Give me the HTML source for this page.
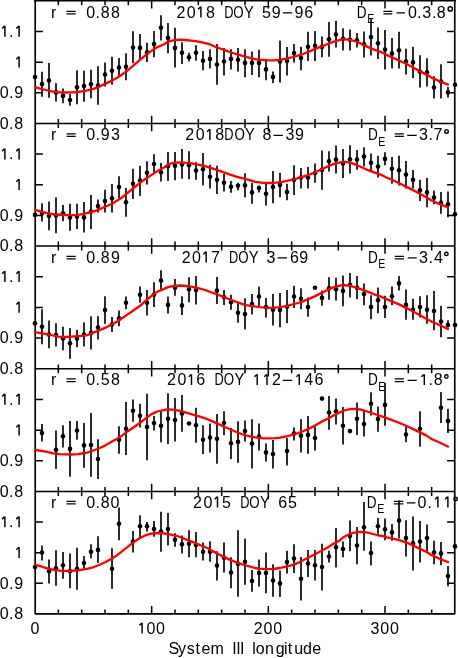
<!DOCTYPE html><html><head><meta charset="utf-8"><style>html,body{margin:0;padding:0;background:#fff;width:458px;height:658px;overflow:hidden}svg{display:block}text{font-family:"Liberation Sans",sans-serif;fill:#000}.tx{filter:grayscale(1)}</style></head><body>
<svg width="458" height="658" viewBox="0 0 458 658">
<g class="tx"><text x="51.11" y="17.50" font-size="16.0">r</text><text x="86.21" y="17.50" font-size="16.0">0</text><text x="95.51" y="17.50" font-size="16.0">.</text><text x="100.63" y="17.50" font-size="16.0">8</text><text x="110.93" y="17.50" font-size="16.0">8</text><text x="176.45" y="17.50" font-size="16.0">2</text><text x="186.71" y="17.50" font-size="16.0">0</text><text x="206.03" y="17.50" font-size="16.0">8</text><text transform="translate(224.13,17.50) scale(0.8,1)" font-size="16.0">D</text><text transform="translate(233.25,17.50) scale(0.83,1)" font-size="16.0">O</text><text transform="translate(243.98,17.50) scale(0.92,1)" font-size="16.0">Y</text><text x="261.91" y="17.50" font-size="16.0">5</text><text x="271.83" y="17.50" font-size="16.0">9</text><text x="294.43" y="17.50" font-size="16.0">9</text><text x="304.15" y="17.50" font-size="16.0">6</text><text transform="translate(356.76,17.50) scale(0.85,1)" font-size="16.0">D</text><text transform="translate(367.20,23.10) scale(0.84,1)" font-size="12.6">E</text><text x="407.91" y="17.50" font-size="16.0">0</text><text x="416.91" y="17.50" font-size="16.0">.</text><text x="422.31" y="17.50" font-size="16.0">3</text><text x="432.01" y="17.50" font-size="16.0">.</text><text x="436.73" y="17.50" font-size="16.0">8</text><text x="51.11" y="140.00" font-size="16.0">r</text><text x="86.21" y="140.00" font-size="16.0">0</text><text x="95.51" y="140.00" font-size="16.0">.</text><text x="100.63" y="140.00" font-size="16.0">9</text><text x="111.01" y="140.00" font-size="16.0">3</text><text x="185.35" y="140.00" font-size="16.0">2</text><text x="195.71" y="140.00" font-size="16.0">0</text><text x="215.13" y="140.00" font-size="16.0">8</text><text transform="translate(224.33,140.00) scale(0.8,1)" font-size="16.0">D</text><text transform="translate(234.45,140.00) scale(0.83,1)" font-size="16.0">O</text><text transform="translate(245.08,140.00) scale(0.92,1)" font-size="16.0">Y</text><text x="262.43" y="140.00" font-size="16.0">8</text><text x="285.51" y="140.00" font-size="16.0">3</text><text x="294.93" y="140.00" font-size="16.0">9</text><text transform="translate(368.06,140.00) scale(0.85,1)" font-size="16.0">D</text><text transform="translate(378.20,145.60) scale(0.84,1)" font-size="12.6">E</text><text x="419.11" y="140.00" font-size="16.0">3</text><text x="428.61" y="140.00" font-size="16.0">.</text><text x="433.55" y="140.00" font-size="16.0">7</text><text x="51.11" y="262.50" font-size="16.0">r</text><text x="86.21" y="262.50" font-size="16.0">0</text><text x="95.51" y="262.50" font-size="16.0">.</text><text x="100.63" y="262.50" font-size="16.0">8</text><text x="110.93" y="262.50" font-size="16.0">9</text><text x="181.75" y="262.50" font-size="16.0">2</text><text x="192.01" y="262.50" font-size="16.0">0</text><text x="210.95" y="262.50" font-size="16.0">7</text><text transform="translate(228.93,262.50) scale(0.8,1)" font-size="16.0">D</text><text transform="translate(238.35,262.50) scale(0.83,1)" font-size="16.0">O</text><text transform="translate(248.68,262.50) scale(0.92,1)" font-size="16.0">Y</text><text x="266.51" y="262.50" font-size="16.0">3</text><text x="290.05" y="262.50" font-size="16.0">6</text><text x="299.23" y="262.50" font-size="16.0">9</text><text transform="translate(368.06,262.50) scale(0.85,1)" font-size="16.0">D</text><text transform="translate(378.20,268.10) scale(0.84,1)" font-size="12.6">E</text><text x="419.11" y="262.50" font-size="16.0">3</text><text x="428.61" y="262.50" font-size="16.0">.</text><text x="433.95" y="262.50" font-size="16.0">4</text><text x="51.11" y="385.10" font-size="16.0">r</text><text x="86.21" y="385.10" font-size="16.0">0</text><text x="95.51" y="385.10" font-size="16.0">.</text><text x="100.71" y="385.10" font-size="16.0">5</text><text x="110.93" y="385.10" font-size="16.0">8</text><text x="167.05" y="385.10" font-size="16.0">2</text><text x="177.41" y="385.10" font-size="16.0">0</text><text x="196.35" y="385.10" font-size="16.0">6</text><text transform="translate(214.43,385.10) scale(0.8,1)" font-size="16.0">D</text><text transform="translate(223.65,385.10) scale(0.83,1)" font-size="16.0">O</text><text transform="translate(234.38,385.10) scale(0.92,1)" font-size="16.0">Y</text><text x="272.05" y="385.10" font-size="16.0">2</text><text x="304.35" y="385.10" font-size="16.0">4</text><text x="314.45" y="385.10" font-size="16.0">6</text><text transform="translate(368.06,385.10) scale(0.85,1)" font-size="16.0">D</text><text transform="translate(378.20,390.70) scale(0.84,1)" font-size="12.6">E</text><text x="428.61" y="385.10" font-size="16.0">.</text><text x="433.63" y="385.10" font-size="16.0">8</text><text x="51.11" y="507.50" font-size="16.0">r</text><text x="86.21" y="507.50" font-size="16.0">0</text><text x="95.51" y="507.50" font-size="16.0">.</text><text x="100.83" y="507.50" font-size="16.0">8</text><text x="110.61" y="507.50" font-size="16.0">0</text><text x="193.05" y="507.50" font-size="16.0">2</text><text x="203.41" y="507.50" font-size="16.0">0</text><text x="222.11" y="507.50" font-size="16.0">5</text><text transform="translate(240.23,507.50) scale(0.8,1)" font-size="16.0">D</text><text transform="translate(249.35,507.50) scale(0.83,1)" font-size="16.0">O</text><text transform="translate(259.98,507.50) scale(0.92,1)" font-size="16.0">Y</text><text x="278.25" y="507.50" font-size="16.0">6</text><text x="287.91" y="507.50" font-size="16.0">5</text><text transform="translate(366.86,507.50) scale(0.85,1)" font-size="16.0">D</text><text transform="translate(377.20,513.10) scale(0.84,1)" font-size="12.6">E</text><text x="417.61" y="507.50" font-size="16.0">0</text><text x="427.61" y="507.50" font-size="16.0">.</text><text x="9.01" y="36.77" font-size="16.0">.</text><text x="-0.19" y="98.12" font-size="16.0">0</text><text x="9.11" y="98.12" font-size="16.0">.</text><text x="14.33" y="98.12" font-size="16.0">9</text><text x="-0.19" y="128.80" font-size="16.0">0</text><text x="9.11" y="128.80" font-size="16.0">.</text><text x="14.33" y="128.80" font-size="16.0">8</text><text x="9.01" y="159.43" font-size="16.0">.</text><text x="-0.19" y="220.68" font-size="16.0">0</text><text x="9.11" y="220.68" font-size="16.0">.</text><text x="14.33" y="220.68" font-size="16.0">9</text><text x="-0.19" y="251.30" font-size="16.0">0</text><text x="9.11" y="251.30" font-size="16.0">.</text><text x="14.33" y="251.30" font-size="16.0">8</text><text x="9.01" y="282.00" font-size="16.0">.</text><text x="-0.19" y="343.40" font-size="16.0">0</text><text x="9.11" y="343.40" font-size="16.0">.</text><text x="14.33" y="343.40" font-size="16.0">9</text><text x="-0.19" y="374.10" font-size="16.0">0</text><text x="9.11" y="374.10" font-size="16.0">.</text><text x="14.33" y="374.10" font-size="16.0">8</text><text x="9.01" y="404.78" font-size="16.0">.</text><text x="-0.19" y="466.12" font-size="16.0">0</text><text x="9.11" y="466.12" font-size="16.0">.</text><text x="14.33" y="466.12" font-size="16.0">9</text><text x="-0.19" y="496.80" font-size="16.0">0</text><text x="9.11" y="496.80" font-size="16.0">.</text><text x="14.33" y="496.80" font-size="16.0">8</text><text x="9.01" y="527.37" font-size="16.0">.</text><text x="-0.19" y="588.52" font-size="16.0">0</text><text x="9.11" y="588.52" font-size="16.0">.</text><text x="14.33" y="588.52" font-size="16.0">9</text><text x="-0.19" y="619.10" font-size="16.0">0</text><text x="9.11" y="619.10" font-size="16.0">.</text><text x="14.33" y="619.10" font-size="16.0">8</text><text x="30.51" y="633.60" font-size="16.0">0</text><text x="146.41" y="633.60" font-size="16.0">0</text><text x="155.91" y="633.60" font-size="16.0">0</text><text x="253.65" y="633.60" font-size="16.0">2</text><text x="263.61" y="633.60" font-size="16.0">0</text><text x="273.21" y="633.60" font-size="16.0">0</text><text x="370.51" y="633.60" font-size="16.0">3</text><text x="380.31" y="633.60" font-size="16.0">0</text><text x="389.91" y="633.60" font-size="16.0">0</text><text x="168.43" y="654.20" font-size="16.0">S</text><text x="177.97" y="654.20" font-size="16.0">y</text><text x="186.77" y="654.20" font-size="16.0">s</text><text x="195.61" y="654.20" font-size="16.0">t</text><text x="201.43" y="654.20" font-size="16.0">e</text><text x="210.61" y="654.20" font-size="16.0">m</text><text x="232.31" y="654.20" font-size="16.0">I</text><text x="236.21" y="654.20" font-size="16.0">I</text><text x="239.91" y="654.20" font-size="16.0">I</text><text x="252.31" y="654.20" font-size="16.0">l</text><text x="255.81" y="654.20" font-size="16.0">o</text><text x="264.91" y="654.20" font-size="16.0">n</text><text x="275.81" y="654.20" font-size="16.0">g</text><text x="284.01" y="654.20" font-size="16.0">i</text><text x="287.81" y="654.20" font-size="16.0">t</text><text x="294.21" y="654.20" font-size="16.0">u</text><text x="302.91" y="654.20" font-size="16.0">d</text><text x="312.23" y="654.20" font-size="16.0">e</text></g>
<path d="M198.10,9.24 L200.60,6.84 M200.90,6.54 V17.50 M207.10,131.74 L209.60,129.34 M209.90,129.04 V140.00 M203.40,254.24 L205.90,251.84 M206.20,251.54 V262.50 M188.70,376.84 L191.20,374.44 M191.50,374.14 V385.10 M254.40,376.84 L256.90,374.44 M257.20,374.14 V385.10 M264.20,376.84 L266.70,374.44 M267.00,374.14 V385.10 M296.50,376.84 L299.00,374.44 M299.30,374.14 V385.10 M421.50,376.84 L424.00,374.44 M424.30,374.14 V385.10 M214.70,499.24 L217.20,496.84 M217.50,496.54 V507.50 M435.10,499.24 L437.60,496.84 M437.90,496.54 V507.50 M445.10,499.24 L447.60,496.84 M447.90,496.54 V507.50 M2.10,28.51 L4.60,26.11 M4.90,25.81 V36.77 M16.30,28.51 L18.80,26.11 M19.10,25.81 V36.77 M16.30,59.19 L18.80,56.79 M19.10,56.49 V67.45 M2.10,151.16 L4.60,148.77 M4.90,148.47 V159.43 M16.30,151.16 L18.80,148.77 M19.10,148.47 V159.43 M16.30,181.79 L18.80,179.39 M19.10,179.09 V190.05 M2.10,273.74 L4.60,271.34 M4.90,271.04 V282.00 M16.30,273.74 L18.80,271.34 M19.10,271.04 V282.00 M16.30,304.44 L18.80,302.04 M19.10,301.74 V312.70 M2.10,396.52 L4.60,394.12 M4.90,393.82 V404.78 M16.30,396.52 L18.80,394.12 M19.10,393.82 V404.78 M16.30,427.19 L18.80,424.79 M19.10,424.49 V435.45 M2.10,519.11 L4.60,516.71 M4.90,516.41 V527.37 M16.30,519.11 L18.80,516.71 M19.10,516.41 V527.37 M16.30,549.69 L18.80,547.29 M19.10,546.99 V557.95 M139.30,625.34 L141.80,622.94 M142.10,622.64 V633.60" stroke="#000" stroke-width="1.45" fill="none"/>
<path d="M66.50,11.30 H75.70 M66.50,13.90 H75.70 M282.90,12.80 H292.10 M383.40,11.30 H392.30 M383.40,13.90 H392.30 M396.50,12.80 H405.00 M66.50,133.80 H75.70 M66.50,136.40 H75.70 M273.60,135.30 H283.00 M394.80,133.80 H403.90 M394.80,136.40 H403.90 M407.20,135.30 H416.70 M66.50,256.30 H75.70 M66.50,258.90 H75.70 M277.60,257.80 H286.90 M394.80,256.30 H403.90 M394.80,258.90 H403.90 M407.60,257.80 H416.70 M66.50,378.90 H75.70 M66.50,381.50 H75.70 M282.70,380.40 H292.20 M394.80,378.90 H403.90 M394.80,381.50 H403.90 M407.60,380.40 H416.70 M66.50,501.30 H75.70 M66.50,503.90 H75.70 M393.80,501.30 H403.30 M393.80,503.90 H403.30 M406.90,502.80 H415.40" stroke="#000" stroke-width="1.25" fill="none"/>
<g stroke="#000" stroke-width="1.4" fill="none"><circle cx="450.25" cy="8.90" r="2.15"/><circle cx="446.50" cy="131.40" r="1.80"/><circle cx="446.35" cy="253.90" r="1.70"/><circle cx="446.35" cy="376.50" r="1.70"/><circle cx="455.60" cy="498.90" r="1.70"/></g>
<g stroke="#000" fill="none">
<path d="M35.2,-2 V613.8 H454.75 V-2" stroke-width="1.65" stroke-linejoin="round"/>
<path d="M34,0.8 H456" stroke-width="1.6"/>
<path d="M35,123.5 H455" stroke-width="1.45"/>
<path d="M35,246.0 H455" stroke-width="1.45"/>
<path d="M35,368.8 H455" stroke-width="1.45"/>
<path d="M35,491.5 H455" stroke-width="1.45"/>
<path d="M58.33,0.8 v4.4 M58.33,123.5 v-4.4 M81.67,0.8 v4.4 M81.67,123.5 v-4.4 M105.00,0.8 v4.4 M105.00,123.5 v-4.4 M128.33,0.8 v4.4 M128.33,123.5 v-4.4 M151.67,0.8 v7.7 M151.67,123.5 v-7.7 M175.00,0.8 v4.4 M175.00,123.5 v-4.4 M198.33,0.8 v4.4 M198.33,123.5 v-4.4 M221.67,0.8 v4.4 M221.67,123.5 v-4.4 M245.00,0.8 v4.4 M245.00,123.5 v-4.4 M268.33,0.8 v7.7 M268.33,123.5 v-7.7 M291.67,0.8 v4.4 M291.67,123.5 v-4.4 M315.00,0.8 v4.4 M315.00,123.5 v-4.4 M338.33,0.8 v4.4 M338.33,123.5 v-4.4 M361.67,0.8 v4.4 M361.67,123.5 v-4.4 M385.00,0.8 v7.7 M385.00,123.5 v-7.7 M408.33,0.8 v4.4 M408.33,123.5 v-4.4 M431.67,0.8 v4.4 M431.67,123.5 v-4.4 M35,92.83 h7.9 M455,92.83 h-7.9 M35,62.15 h7.9 M455,62.15 h-7.9 M35,31.47 h7.9 M455,31.47 h-7.9 M58.33,123.5 v4.4 M58.33,246.0 v-4.4 M81.67,123.5 v4.4 M81.67,246.0 v-4.4 M105.00,123.5 v4.4 M105.00,246.0 v-4.4 M128.33,123.5 v4.4 M128.33,246.0 v-4.4 M151.67,123.5 v7.7 M151.67,246.0 v-7.7 M175.00,123.5 v4.4 M175.00,246.0 v-4.4 M198.33,123.5 v4.4 M198.33,246.0 v-4.4 M221.67,123.5 v4.4 M221.67,246.0 v-4.4 M245.00,123.5 v4.4 M245.00,246.0 v-4.4 M268.33,123.5 v7.7 M268.33,246.0 v-7.7 M291.67,123.5 v4.4 M291.67,246.0 v-4.4 M315.00,123.5 v4.4 M315.00,246.0 v-4.4 M338.33,123.5 v4.4 M338.33,246.0 v-4.4 M361.67,123.5 v4.4 M361.67,246.0 v-4.4 M385.00,123.5 v7.7 M385.00,246.0 v-7.7 M408.33,123.5 v4.4 M408.33,246.0 v-4.4 M431.67,123.5 v4.4 M431.67,246.0 v-4.4 M35,215.38 h7.9 M455,215.38 h-7.9 M35,184.75 h7.9 M455,184.75 h-7.9 M35,154.12 h7.9 M455,154.12 h-7.9 M58.33,246.0 v4.4 M58.33,368.8 v-4.4 M81.67,246.0 v4.4 M81.67,368.8 v-4.4 M105.00,246.0 v4.4 M105.00,368.8 v-4.4 M128.33,246.0 v4.4 M128.33,368.8 v-4.4 M151.67,246.0 v7.7 M151.67,368.8 v-7.7 M175.00,246.0 v4.4 M175.00,368.8 v-4.4 M198.33,246.0 v4.4 M198.33,368.8 v-4.4 M221.67,246.0 v4.4 M221.67,368.8 v-4.4 M245.00,246.0 v4.4 M245.00,368.8 v-4.4 M268.33,246.0 v7.7 M268.33,368.8 v-7.7 M291.67,246.0 v4.4 M291.67,368.8 v-4.4 M315.00,246.0 v4.4 M315.00,368.8 v-4.4 M338.33,246.0 v4.4 M338.33,368.8 v-4.4 M361.67,246.0 v4.4 M361.67,368.8 v-4.4 M385.00,246.0 v7.7 M385.00,368.8 v-7.7 M408.33,246.0 v4.4 M408.33,368.8 v-4.4 M431.67,246.0 v4.4 M431.67,368.8 v-4.4 M35,338.10 h7.9 M455,338.10 h-7.9 M35,307.40 h7.9 M455,307.40 h-7.9 M35,276.70 h7.9 M455,276.70 h-7.9 M58.33,368.8 v4.4 M58.33,491.5 v-4.4 M81.67,368.8 v4.4 M81.67,491.5 v-4.4 M105.00,368.8 v4.4 M105.00,491.5 v-4.4 M128.33,368.8 v4.4 M128.33,491.5 v-4.4 M151.67,368.8 v7.7 M151.67,491.5 v-7.7 M175.00,368.8 v4.4 M175.00,491.5 v-4.4 M198.33,368.8 v4.4 M198.33,491.5 v-4.4 M221.67,368.8 v4.4 M221.67,491.5 v-4.4 M245.00,368.8 v4.4 M245.00,491.5 v-4.4 M268.33,368.8 v7.7 M268.33,491.5 v-7.7 M291.67,368.8 v4.4 M291.67,491.5 v-4.4 M315.00,368.8 v4.4 M315.00,491.5 v-4.4 M338.33,368.8 v4.4 M338.33,491.5 v-4.4 M361.67,368.8 v4.4 M361.67,491.5 v-4.4 M385.00,368.8 v7.7 M385.00,491.5 v-7.7 M408.33,368.8 v4.4 M408.33,491.5 v-4.4 M431.67,368.8 v4.4 M431.67,491.5 v-4.4 M35,460.82 h7.9 M455,460.82 h-7.9 M35,430.15 h7.9 M455,430.15 h-7.9 M35,399.48 h7.9 M455,399.48 h-7.9 M58.33,491.5 v4.4 M58.33,613.8 v-4.4 M81.67,491.5 v4.4 M81.67,613.8 v-4.4 M105.00,491.5 v4.4 M105.00,613.8 v-4.4 M128.33,491.5 v4.4 M128.33,613.8 v-4.4 M151.67,491.5 v7.7 M151.67,613.8 v-7.7 M175.00,491.5 v4.4 M175.00,613.8 v-4.4 M198.33,491.5 v4.4 M198.33,613.8 v-4.4 M221.67,491.5 v4.4 M221.67,613.8 v-4.4 M245.00,491.5 v4.4 M245.00,613.8 v-4.4 M268.33,491.5 v7.7 M268.33,613.8 v-7.7 M291.67,491.5 v4.4 M291.67,613.8 v-4.4 M315.00,491.5 v4.4 M315.00,613.8 v-4.4 M338.33,491.5 v4.4 M338.33,613.8 v-4.4 M361.67,491.5 v4.4 M361.67,613.8 v-4.4 M385.00,491.5 v7.7 M385.00,613.8 v-7.7 M408.33,491.5 v4.4 M408.33,613.8 v-4.4 M431.67,491.5 v4.4 M431.67,613.8 v-4.4 M35,583.23 h7.9 M455,583.23 h-7.9 M35,552.65 h7.9 M455,552.65 h-7.9 M35,522.07 h7.9 M455,522.07 h-7.9" stroke-width="1.5"/>
</g>
<path d="M42,71.7 V96.7 M49,63.0 V97.7 M56,83.3 V101.5 M63,88.4 V103.3 M70,94.0 V105.8 M77,70.3 V104.2 M84,70.7 V101.7 M91,69.8 V98.3 M98,66.3 V104.7 M105,62.6 V86.5 M112,56.8 V84.8 M119,58.0 V76.0 M126,53.3 V80.2 M133,31.3 V63.3 M140,34.1 V59.8 M147,42.8 V62.0 M154,31.0 V57.2 M161,15.2 V40.6 M168,23.1 V53.3 M175,27.8 V67.6 M182,42.3 V64.1 M189,52.8 V61.5 M196,45.3 V60.7 M203,51.0 V70.3 M210,49.3 V68.5 M217,44.1 V84.8 M224,48.1 V75.5 M231,49.3 V69.4 M238,48.1 V71.5 M245,49.3 V77.2 M252,51.6 V75.0 M259,49.8 V77.2 M266,58.9 V80.2 M273,71.5 V83.0 M280,40.6 V82.5 M287,47.0 V75.5 M294,44.1 V62.4 M301,46.7 V70.3 M308,31.8 V61.0 M315,31.0 V61.0 M322,36.6 V57.2 M329,21.9 V56.8 M336,20.8 V47.6 M343,28.3 V50.5 M350,29.6 V50.5 M357,33.0 V47.6 M364,31.5 V57.5 M371,18.0 V55.6 M378,27.5 V59.0 M385,30.0 V69.4 M392,38.0 V68.5 M399,31.8 V68.5 M406,48.8 V74.6 M413,46.7 V78.1 M420,55.2 V87.6 M427,58.3 V86.6 M434,76.3 V98.6 M441,64.3 V98.6 M448,87.1 V97.4" stroke="#000" stroke-width="1.65" fill="none"/>
<g fill="#000"><circle cx="35" cy="77.1" r="2.3"/><circle cx="42" cy="84.0" r="2.3"/><circle cx="49" cy="80.5" r="2.3"/><circle cx="56" cy="92.4" r="2.3"/><circle cx="63" cy="95.9" r="2.3"/><circle cx="70" cy="100.0" r="2.3"/><circle cx="77" cy="87.2" r="2.3"/><circle cx="84" cy="86.0" r="2.3"/><circle cx="91" cy="84.3" r="2.3"/><circle cx="98" cy="85.5" r="2.3"/><circle cx="105" cy="74.5" r="2.3"/><circle cx="112" cy="70.8" r="2.3"/><circle cx="119" cy="67.6" r="2.3"/><circle cx="126" cy="66.8" r="2.3"/><circle cx="133" cy="47.6" r="2.3"/><circle cx="140" cy="47.9" r="2.3"/><circle cx="147" cy="52.4" r="2.3"/><circle cx="154" cy="44.1" r="2.3"/><circle cx="161" cy="27.8" r="2.3"/><circle cx="168" cy="37.9" r="2.3"/><circle cx="175" cy="47.9" r="2.3"/><circle cx="182" cy="52.8" r="2.3"/><circle cx="189" cy="57.2" r="2.3"/><circle cx="196" cy="52.8" r="2.3"/><circle cx="203" cy="60.7" r="2.3"/><circle cx="210" cy="58.9" r="2.3"/><circle cx="217" cy="64.5" r="2.3"/><circle cx="224" cy="61.5" r="2.3"/><circle cx="231" cy="58.9" r="2.3"/><circle cx="238" cy="59.8" r="2.3"/><circle cx="245" cy="62.9" r="2.3"/><circle cx="252" cy="62.9" r="2.3"/><circle cx="259" cy="62.9" r="2.3"/><circle cx="266" cy="69.4" r="2.3"/><circle cx="273" cy="76.9" r="2.3"/><circle cx="280" cy="61.5" r="2.3"/><circle cx="287" cy="61.0" r="2.3"/><circle cx="294" cy="53.1" r="2.3"/><circle cx="301" cy="58.0" r="2.3"/><circle cx="308" cy="46.7" r="2.3"/><circle cx="315" cy="45.8" r="2.3"/><circle cx="322" cy="47.0" r="2.3"/><circle cx="329" cy="39.3" r="2.3"/><circle cx="336" cy="34.5" r="2.3"/><circle cx="343" cy="38.8" r="2.3"/><circle cx="350" cy="39.7" r="2.3"/><circle cx="357" cy="40.3" r="2.3"/><circle cx="364" cy="44.2" r="2.3"/><circle cx="371" cy="37.1" r="2.3"/><circle cx="378" cy="43.3" r="2.3"/><circle cx="385" cy="49.6" r="2.3"/><circle cx="392" cy="53.4" r="2.3"/><circle cx="399" cy="50.2" r="2.3"/><circle cx="406" cy="61.5" r="2.3"/><circle cx="413" cy="62.4" r="2.3"/><circle cx="420" cy="71.8" r="2.3"/><circle cx="427" cy="72.3" r="2.3"/><circle cx="434" cy="87.6" r="2.3"/><circle cx="441" cy="81.5" r="2.3"/><circle cx="448" cy="92.4" r="2.3"/><circle cx="455" cy="84.7" r="2.3"/></g>
<path d="M42,203.3 V221.6 M49,201.4 V230.2 M56,197.4 V233.2 M63,205.0 V221.3 M70,203.7 V230.8 M77,203.7 V229.1 M84,202.0 V232.6 M91,195.0 V229.1 M98,199.4 V212.5 M105,189.8 V212.5 M112,184.0 V212.5 M119,176.3 V198.5 M126,188.0 V216.8 M133,168.8 V199.0 M140,165.8 V195.9 M147,161.3 V184.5 M154,154.3 V172.3 M161,163.0 V181.6 M168,151.9 V181.0 M175,151.9 V180.2 M182,149.1 V178.8 M189,151.3 V179.3 M196,162.3 V179.8 M203,153.1 V185.4 M210,164.8 V188.5 M217,165.8 V194.1 M224,174.0 V191.5 M231,181.0 V192.7 M238,182.8 V190.3 M245,173.2 V197.6 M252,182.8 V203.7 M259,185.4 V192.4 M266,182.8 V205.5 M273,171.1 V203.2 M280,172.8 V197.3 M287,183.7 V200.2 M294,165.3 V195.0 M301,168.0 V188.5 M308,167.1 V188.5 M315,163.6 V182.8 M322,150.5 V189.8 M329,151.3 V171.4 M336,145.6 V173.5 M343,149.1 V178.1 M350,145.2 V173.5 M357,150.1 V169.7 M364,147.3 V166.5 M371,153.6 V171.1 M378,155.7 V177.5 M385,152.2 V165.3 M392,157.1 V183.7 M399,155.7 V185.4 M406,161.0 V188.5 M413,170.0 V188.5 M420,179.8 V201.1 M427,178.1 V207.2 M434,190.6 V204.3 M441,192.0 V213.7 M448,191.5 V217.2" stroke="#000" stroke-width="1.65" fill="none"/>
<g fill="#000"><circle cx="35" cy="214.9" r="2.3"/><circle cx="42" cy="212.9" r="2.3"/><circle cx="49" cy="216.0" r="2.3"/><circle cx="56" cy="215.6" r="2.3"/><circle cx="63" cy="213.2" r="2.3"/><circle cx="70" cy="217.4" r="2.3"/><circle cx="77" cy="216.5" r="2.3"/><circle cx="84" cy="217.4" r="2.3"/><circle cx="91" cy="211.6" r="2.3"/><circle cx="98" cy="206.0" r="2.3"/><circle cx="105" cy="201.1" r="2.3"/><circle cx="112" cy="198.2" r="2.3"/><circle cx="119" cy="187.1" r="2.3"/><circle cx="126" cy="202.3" r="2.3"/><circle cx="133" cy="183.7" r="2.3"/><circle cx="140" cy="180.5" r="2.3"/><circle cx="147" cy="172.8" r="2.3"/><circle cx="154" cy="164.1" r="2.3"/><circle cx="161" cy="172.3" r="2.3"/><circle cx="168" cy="166.2" r="2.3"/><circle cx="175" cy="165.8" r="2.3"/><circle cx="182" cy="164.4" r="2.3"/><circle cx="189" cy="165.3" r="2.3"/><circle cx="196" cy="170.6" r="2.3"/><circle cx="203" cy="169.3" r="2.3"/><circle cx="210" cy="176.7" r="2.3"/><circle cx="217" cy="179.8" r="2.3"/><circle cx="224" cy="182.8" r="2.3"/><circle cx="231" cy="186.8" r="2.3"/><circle cx="238" cy="185.8" r="2.3"/><circle cx="245" cy="185.4" r="2.3"/><circle cx="252" cy="192.4" r="2.3"/><circle cx="259" cy="188.0" r="2.3"/><circle cx="266" cy="193.8" r="2.3"/><circle cx="273" cy="187.1" r="2.3"/><circle cx="280" cy="185.1" r="2.3"/><circle cx="287" cy="192.0" r="2.3"/><circle cx="294" cy="179.8" r="2.3"/><circle cx="301" cy="177.5" r="2.3"/><circle cx="308" cy="177.5" r="2.3"/><circle cx="315" cy="173.2" r="2.3"/><circle cx="322" cy="170.0" r="2.3"/><circle cx="329" cy="161.3" r="2.3"/><circle cx="336" cy="159.6" r="2.3"/><circle cx="343" cy="163.6" r="2.3"/><circle cx="350" cy="159.2" r="2.3"/><circle cx="357" cy="159.6" r="2.3"/><circle cx="364" cy="156.6" r="2.3"/><circle cx="371" cy="162.7" r="2.3"/><circle cx="378" cy="166.5" r="2.3"/><circle cx="385" cy="158.9" r="2.3"/><circle cx="392" cy="168.8" r="2.3"/><circle cx="399" cy="170.2" r="2.3"/><circle cx="406" cy="174.6" r="2.3"/><circle cx="413" cy="179.8" r="2.3"/><circle cx="420" cy="190.3" r="2.3"/><circle cx="427" cy="192.4" r="2.3"/><circle cx="434" cy="197.6" r="2.3"/><circle cx="441" cy="202.9" r="2.3"/><circle cx="448" cy="204.3" r="2.3"/><circle cx="455" cy="214.2" r="2.3"/></g>
<path d="M42,309.3 V344.2 M49,320.6 V348.2 M56,323.2 V346.5 M63,326.7 V350.3 M70,328.0 V358.7 M77,329.7 V347.2 M84,322.4 V346.5 M91,316.3 V349.4 M98,316.3 V339.5 M105,296.2 V323.8 M112,317.1 V332.0 M119,310.5 V326.2 M126,296.5 V309.3 M140,286.6 V302.8 M147,290.1 V315.4 M154,282.2 V307.0 M161,270.3 V289.5 M168,296.5 V313.6 M175,279.1 V295.8 M182,296.2 V315.0 M189,277.3 V302.3 M196,276.1 V304.6 M217,277.0 V304.0 M224,290.1 V304.9 M231,294.8 V309.8 M238,302.8 V322.7 M245,298.3 V329.4 M252,294.1 V314.5 M259,286.6 V306.7 M266,297.9 V317.5 M273,294.1 V325.5 M280,293.0 V327.3 M287,290.1 V323.2 M294,285.7 V308.1 M301,288.3 V309.3 M308,297.6 V316.8 M322,290.6 V305.8 M329,277.3 V299.7 M336,277.8 V300.5 M343,275.6 V306.3 M350,273.1 V297.6 M357,276.1 V299.3 M364,283.6 V305.3 M371,295.3 V319.2 M378,287.4 V313.3 M385,295.8 V318.0 M392,286.6 V305.3 M399,276.1 V290.6 M406,289.5 V319.8 M413,298.8 V319.8 M420,296.2 V317.5 M427,295.3 V323.8 M434,290.9 V330.2 M441,305.8 V337.2 M448,320.3 V327.6" stroke="#000" stroke-width="1.65" fill="none"/>
<g fill="#000"><circle cx="35" cy="323.2" r="2.3"/><circle cx="42" cy="326.7" r="2.3"/><circle cx="49" cy="334.6" r="2.3"/><circle cx="56" cy="335.0" r="2.3"/><circle cx="63" cy="338.4" r="2.3"/><circle cx="70" cy="343.3" r="2.3"/><circle cx="77" cy="338.4" r="2.3"/><circle cx="84" cy="334.6" r="2.3"/><circle cx="91" cy="332.9" r="2.3"/><circle cx="98" cy="327.6" r="2.3"/><circle cx="105" cy="310.1" r="2.3"/><circle cx="112" cy="324.6" r="2.3"/><circle cx="119" cy="318.4" r="2.3"/><circle cx="126" cy="302.8" r="2.3"/><circle cx="140" cy="294.8" r="2.3"/><circle cx="147" cy="302.8" r="2.3"/><circle cx="154" cy="294.8" r="2.3"/><circle cx="161" cy="280.5" r="2.3"/><circle cx="168" cy="304.9" r="2.3"/><circle cx="175" cy="287.8" r="2.3"/><circle cx="182" cy="305.4" r="2.3"/><circle cx="189" cy="289.2" r="2.3"/><circle cx="196" cy="290.1" r="2.3"/><circle cx="217" cy="290.6" r="2.3"/><circle cx="224" cy="297.0" r="2.3"/><circle cx="231" cy="302.3" r="2.3"/><circle cx="238" cy="312.8" r="2.3"/><circle cx="245" cy="314.0" r="2.3"/><circle cx="252" cy="304.0" r="2.3"/><circle cx="259" cy="296.5" r="2.3"/><circle cx="266" cy="307.0" r="2.3"/><circle cx="273" cy="309.8" r="2.3"/><circle cx="280" cy="310.1" r="2.3"/><circle cx="287" cy="306.7" r="2.3"/><circle cx="294" cy="296.5" r="2.3"/><circle cx="301" cy="298.8" r="2.3"/><circle cx="308" cy="307.0" r="2.3"/><circle cx="315" cy="287.8" r="2.3"/><circle cx="322" cy="297.9" r="2.3"/><circle cx="329" cy="288.3" r="2.3"/><circle cx="336" cy="289.2" r="2.3"/><circle cx="343" cy="290.9" r="2.3"/><circle cx="350" cy="284.8" r="2.3"/><circle cx="357" cy="287.8" r="2.3"/><circle cx="364" cy="294.1" r="2.3"/><circle cx="371" cy="307.0" r="2.3"/><circle cx="378" cy="300.2" r="2.3"/><circle cx="385" cy="307.0" r="2.3"/><circle cx="392" cy="296.2" r="2.3"/><circle cx="399" cy="283.4" r="2.3"/><circle cx="406" cy="304.9" r="2.3"/><circle cx="413" cy="309.8" r="2.3"/><circle cx="420" cy="307.0" r="2.3"/><circle cx="427" cy="309.8" r="2.3"/><circle cx="434" cy="311.0" r="2.3"/><circle cx="441" cy="321.5" r="2.3"/><circle cx="448" cy="325.0" r="2.3"/><circle cx="455" cy="325.0" r="2.3"/></g>
<path d="M42,424.1 V441.5 M56,430.5 V469.0 M63,425.3 V447.5 M70,420.9 V476.8 M77,420.9 V439.8 M84,423.0 V467.7 M91,413.1 V476.8 M98,439.3 V478.9 M119,426.2 V453.8 M126,402.1 V455.0 M133,399.6 V421.8 M140,403.8 V427.6 M147,393.8 V460.2 M154,416.0 V430.5 M161,411.3 V442.2 M168,393.3 V444.0 M175,397.9 V441.5 M182,395.1 V431.8 M196,407.8 V442.8 M203,425.3 V454.1 M210,423.5 V452.4 M217,413.9 V463.7 M224,411.3 V435.2 M231,427.9 V459.0 M238,421.3 V462.8 M245,420.6 V441.5 M252,419.2 V468.4 M259,423.5 V450.6 M266,443.6 V461.4 M273,440.1 V468.4 M287,438.0 V465.5 M294,427.6 V440.5 M301,419.2 V452.4 M308,416.0 V453.8 M315,426.2 V450.6 M329,396.1 V429.7 M336,398.6 V424.4 M343,407.0 V444.5 M357,402.6 V434.9 M364,411.0 V436.6 M371,392.3 V415.5 M378,406.4 V431.8 M385,383.1 V425.8 M406,426.5 V442.2 M420,411.3 V446.8 M441,392.1 V423.0 M448,408.7 V433.1" stroke="#000" stroke-width="1.65" fill="none"/>
<g fill="#000"><circle cx="42" cy="433.1" r="2.3"/><circle cx="56" cy="449.7" r="2.3"/><circle cx="63" cy="436.3" r="2.3"/><circle cx="70" cy="448.9" r="2.3"/><circle cx="77" cy="430.5" r="2.3"/><circle cx="84" cy="445.4" r="2.3"/><circle cx="91" cy="445.0" r="2.3"/><circle cx="98" cy="459.0" r="2.3"/><circle cx="119" cy="439.8" r="2.3"/><circle cx="126" cy="428.8" r="2.3"/><circle cx="133" cy="410.8" r="2.3"/><circle cx="140" cy="415.7" r="2.3"/><circle cx="147" cy="427.0" r="2.3"/><circle cx="154" cy="423.0" r="2.3"/><circle cx="161" cy="425.8" r="2.3"/><circle cx="168" cy="418.8" r="2.3"/><circle cx="175" cy="420.0" r="2.3"/><circle cx="182" cy="413.6" r="2.3"/><circle cx="189" cy="423.5" r="2.3"/><circle cx="196" cy="425.3" r="2.3"/><circle cx="203" cy="439.8" r="2.3"/><circle cx="210" cy="437.5" r="2.3"/><circle cx="217" cy="438.7" r="2.3"/><circle cx="224" cy="423.0" r="2.3"/><circle cx="231" cy="443.3" r="2.3"/><circle cx="238" cy="441.9" r="2.3"/><circle cx="245" cy="431.1" r="2.3"/><circle cx="252" cy="443.6" r="2.3"/><circle cx="259" cy="436.6" r="2.3"/><circle cx="266" cy="452.4" r="2.3"/><circle cx="273" cy="454.1" r="2.3"/><circle cx="287" cy="451.0" r="2.3"/><circle cx="294" cy="433.5" r="2.3"/><circle cx="301" cy="435.8" r="2.3"/><circle cx="308" cy="434.9" r="2.3"/><circle cx="315" cy="438.0" r="2.3"/><circle cx="322" cy="398.6" r="2.3"/><circle cx="329" cy="412.5" r="2.3"/><circle cx="336" cy="411.3" r="2.3"/><circle cx="343" cy="425.8" r="2.3"/><circle cx="350" cy="431.1" r="2.3"/><circle cx="357" cy="418.8" r="2.3"/><circle cx="364" cy="424.1" r="2.3"/><circle cx="371" cy="403.7" r="2.3"/><circle cx="378" cy="419.0" r="2.3"/><circle cx="385" cy="404.9" r="2.3"/><circle cx="406" cy="434.5" r="2.3"/><circle cx="420" cy="428.8" r="2.3"/><circle cx="441" cy="407.8" r="2.3"/><circle cx="448" cy="420.9" r="2.3"/></g>
<path d="M42,545.5 V560.4 M49,559.5 V583.4 M56,550.3 V585.7 M63,552.0 V578.7 M70,553.4 V588.3 M77,547.8 V589.7 M84,556.0 V568.8 M91,544.3 V558.6 M98,536.3 V563.0 M112,548.2 V588.7 M119,507.6 V540.3 M133,531.0 V552.5 M140,515.3 V537.7 M147,522.0 V531.6 M154,521.1 V536.8 M161,511.8 V551.7 M168,512.9 V545.5 M175,533.3 V546.8 M182,535.6 V553.4 M189,530.3 V557.2 M196,532.1 V557.2 M203,542.6 V560.4 M210,541.2 V561.8 M217,551.3 V580.5 M224,542.6 V572.6 M231,557.2 V588.3 M238,530.3 V596.7 M245,538.6 V584.8 M252,570.0 V591.8 M259,559.5 V586.6 M266,552.5 V593.2 M273,564.2 V596.7 M280,570.5 V597.1 M287,550.8 V573.5 M294,544.3 V573.0 M301,556.9 V600.6 M308,549.9 V577.0 M315,549.9 V580.5 M322,543.8 V590.4 M329,550.8 V562.5 M336,528.1 V567.4 M343,541.5 V557.2 M350,520.6 V551.3 M357,526.9 V564.2 M364,502.0 V550.8 M371,541.5 V565.6 M378,518.1 V533.8 M385,518.5 V540.3 M392,524.1 V540.8 M399,500.5 V538.6 M406,520.2 V556.5 M413,516.4 V570.5 M420,521.1 V562.5 M427,524.6 V551.7 M434,540.8 V564.2 M441,542.0 V565.3 M448,566.0 V586.2" stroke="#000" stroke-width="1.65" fill="none"/>
<g fill="#000"><circle cx="35" cy="567.0" r="2.3"/><circle cx="42" cy="552.5" r="2.3"/><circle cx="49" cy="571.2" r="2.3"/><circle cx="56" cy="568.2" r="2.3"/><circle cx="63" cy="565.3" r="2.3"/><circle cx="70" cy="571.2" r="2.3"/><circle cx="77" cy="568.8" r="2.3"/><circle cx="84" cy="563.0" r="2.3"/><circle cx="91" cy="551.7" r="2.3"/><circle cx="98" cy="549.9" r="2.3"/><circle cx="112" cy="568.8" r="2.3"/><circle cx="119" cy="523.7" r="2.3"/><circle cx="133" cy="541.5" r="2.3"/><circle cx="140" cy="526.3" r="2.3"/><circle cx="147" cy="526.3" r="2.3"/><circle cx="154" cy="529.0" r="2.3"/><circle cx="161" cy="531.6" r="2.3"/><circle cx="168" cy="529.0" r="2.3"/><circle cx="175" cy="539.8" r="2.3"/><circle cx="182" cy="544.3" r="2.3"/><circle cx="189" cy="543.8" r="2.3"/><circle cx="196" cy="545.0" r="2.3"/><circle cx="203" cy="551.7" r="2.3"/><circle cx="210" cy="551.7" r="2.3"/><circle cx="217" cy="565.6" r="2.3"/><circle cx="224" cy="557.8" r="2.3"/><circle cx="231" cy="572.6" r="2.3"/><circle cx="238" cy="563.9" r="2.3"/><circle cx="245" cy="561.8" r="2.3"/><circle cx="252" cy="581.0" r="2.3"/><circle cx="259" cy="573.0" r="2.3"/><circle cx="266" cy="573.0" r="2.3"/><circle cx="273" cy="580.5" r="2.3"/><circle cx="280" cy="583.4" r="2.3"/><circle cx="287" cy="562.1" r="2.3"/><circle cx="294" cy="558.6" r="2.3"/><circle cx="301" cy="578.7" r="2.3"/><circle cx="308" cy="563.5" r="2.3"/><circle cx="315" cy="565.3" r="2.3"/><circle cx="322" cy="567.0" r="2.3"/><circle cx="329" cy="556.5" r="2.3"/><circle cx="336" cy="547.3" r="2.3"/><circle cx="343" cy="549.0" r="2.3"/><circle cx="350" cy="535.9" r="2.3"/><circle cx="357" cy="545.5" r="2.3"/><circle cx="364" cy="527.2" r="2.3"/><circle cx="371" cy="553.1" r="2.3"/><circle cx="378" cy="526.3" r="2.3"/><circle cx="385" cy="529.3" r="2.3"/><circle cx="392" cy="532.4" r="2.3"/><circle cx="399" cy="520.6" r="2.3"/><circle cx="406" cy="538.0" r="2.3"/><circle cx="413" cy="543.3" r="2.3"/><circle cx="420" cy="541.5" r="2.3"/><circle cx="427" cy="538.0" r="2.3"/><circle cx="434" cy="552.5" r="2.3"/><circle cx="441" cy="553.4" r="2.3"/><circle cx="448" cy="576.1" r="2.3"/><circle cx="455" cy="546.4" r="2.3"/></g>
<polyline points="34.5,86.9 41.0,88.8 48.1,90.5 53.1,91.7 59.1,92.3 65.1,92.5 71.2,92.3 77.0,92.0 84.0,91.1 91.1,89.6 98.1,87.3 105.1,83.9 112.1,80.6 117.2,77.8 121.0,75.2 127.0,71.0 133.0,65.8 139.1,60.6 145.1,55.7 151.1,51.1 157.1,47.2 164.1,44.2 167.0,42.3 170.0,41.2 175.0,40.1 180.1,39.7 185.1,40.0 191.1,40.6 197.1,41.4 203.2,42.7 210.0,44.4 213.0,45.7 217.0,47.5 224.1,49.9 231.1,52.5 238.1,54.6 245.1,56.6 252.1,58.3 255.0,59.2 259.0,59.7 265.0,60.2 273.1,60.4 279.1,59.8 286.1,58.7 293.2,57.0 298.0,55.6 303.0,54.0 309.0,51.6 315.1,48.9 321.1,46.7 327.1,44.2 333.1,41.9 340.1,39.9 344.0,39.2 350.0,39.8 356.1,41.5 362.1,44.1 368.1,47.1 374.1,49.6 381.2,52.1 386.0,54.6 392.0,57.4 399.1,60.5 406.1,63.7 412.6,67.3 419.6,71.1 426.6,74.6 432.1,77.9 440.1,81.5 448.9,84.9" fill="none" stroke="#f00" stroke-width="2.3" stroke-linejoin="round"/>
<polyline points="34.5,209.6 41.0,211.6 48.1,213.4 55.1,214.5 63.1,215.0 71.2,215.1 78.0,214.8 84.0,213.8 91.1,212.2 98.1,209.9 105.1,206.8 112.1,203.7 117.2,200.6 122.0,197.5 127.0,193.4 133.0,188.5 139.1,183.7 145.1,179.2 151.1,175.1 157.1,171.2 164.1,167.5 167.0,165.3 170.0,163.9 175.0,162.7 181.1,162.4 187.1,162.9 193.1,163.7 199.1,164.9 205.2,166.2 210.0,167.6 216.0,169.7 223.1,172.2 230.1,174.7 237.1,176.8 244.1,178.7 251.6,180.7 255.0,181.8 258.0,182.2 263.0,182.8 270.1,183.0 276.1,182.6 282.1,181.8 288.1,180.7 295.6,179.0 299.0,177.6 303.0,176.6 309.0,174.7 315.1,172.2 321.1,169.5 327.1,166.7 333.1,164.2 340.1,162.3 344.0,161.7 350.0,162.6 356.1,164.7 362.1,167.5 368.1,170.2 374.1,172.4 381.2,174.9 386.0,177.2 392.0,179.8 399.1,183.2 406.1,186.6 412.6,189.9 419.6,193.6 426.6,197.4 432.1,200.8 440.1,204.4 448.9,207.7" fill="none" stroke="#f00" stroke-width="2.3" stroke-linejoin="round"/>
<polyline points="34.5,332.1 42.0,333.3 49.1,334.5 53.0,335.5 58.1,336.6 65.1,337.0 71.2,336.6 78.0,336.1 82.0,335.8 87.0,335.2 92.1,333.1 98.1,330.8 105.1,327.9 111.1,324.7 117.2,321.5 122.0,318.3 127.0,314.9 133.0,310.7 140.1,305.8 146.1,300.4 152.1,295.4 157.1,291.8 163.6,289.1 168.0,287.1 174.0,285.8 180.1,285.5 186.1,286.0 192.1,286.9 198.1,288.1 205.2,290.0 210.0,291.9 216.0,293.9 223.1,296.8 230.1,299.5 237.1,302.1 244.1,304.6 249.2,305.7 254.0,306.3 260.0,307.1 268.1,307.8 274.1,307.7 280.1,307.1 286.1,306.1 292.2,304.5 298.0,303.0 303.0,301.3 309.0,298.9 315.1,296.1 321.1,293.1 327.1,290.2 333.1,287.4 340.1,285.6 343.5,285.0 350.0,285.9 356.1,287.5 362.1,289.6 368.1,291.9 374.1,294.3 380.2,296.4 386.0,298.9 392.0,301.4 399.1,304.4 406.1,307.9 412.6,311.3 419.6,315.1 426.6,318.9 431.6,321.6 436.1,323.5 442.1,326.2 448.9,329.4" fill="none" stroke="#f00" stroke-width="2.3" stroke-linejoin="round"/>
<polyline points="34.5,449.6 39.0,450.5 46.1,451.6 53.1,453.4 59.1,454.2 65.1,454.3 71.2,454.5 78.0,454.1 82.0,453.5 87.0,452.7 92.1,451.0 98.1,448.7 105.1,445.6 111.1,442.1 117.2,438.8 122.0,435.6 127.0,431.7 133.0,427.7 139.1,423.5 145.1,418.9 151.1,414.4 157.1,411.5 164.1,410.0 168.0,409.4 175.0,409.8 181.1,411.1 187.1,412.8 193.1,414.7 199.1,416.4 205.2,418.3 210.0,420.4 216.0,422.9 223.1,426.2 230.1,429.3 237.1,432.3 244.1,435.0 252.1,436.8 255.0,437.3 258.0,437.6 263.0,438.4 269.1,438.4 275.1,438.1 280.1,437.7 286.1,436.5 293.2,434.7 298.0,433.1 303.0,431.2 309.0,428.6 315.1,425.5 321.1,421.9 327.1,419.0 333.1,415.8 339.6,412.5 344.0,410.5 350.0,409.2 356.1,409.0 361.1,409.7 367.1,411.5 373.1,413.5 379.2,415.5 386.0,417.9 392.0,420.1 399.1,422.8 406.1,425.7 412.6,428.9 419.6,432.1 426.6,435.6 431.6,439.0 440.1,442.8 448.9,447.0" fill="none" stroke="#f00" stroke-width="2.3" stroke-linejoin="round"/>
<polyline points="34.5,564.6 41.0,566.4 48.1,568.6 55.1,570.2 62.1,570.9 69.1,570.9 76.1,570.5 79.0,570.2 82.0,569.7 87.0,568.9 93.1,567.3 99.1,565.0 105.1,562.2 111.1,558.9 117.2,555.2 122.0,551.4 127.0,547.4 133.0,542.6 139.1,538.5 145.1,535.4 151.1,533.7 157.1,533.0 164.1,533.4 167.0,534.0 171.0,534.6 177.0,536.0 183.1,538.2 189.1,540.6 195.1,542.9 201.1,545.5 208.1,548.3 211.0,550.4 216.0,552.9 223.1,556.5 230.1,559.9 237.1,562.6 244.1,565.0 252.1,567.1 255.0,568.0 259.0,568.7 266.1,569.2 273.1,569.0 280.1,568.0 286.1,566.6 293.2,564.9 298.0,562.9 303.0,560.3 309.0,557.2 315.1,554.2 321.1,551.0 327.1,547.7 333.1,544.1 340.1,540.2 343.0,537.5 347.0,535.2 353.0,532.9 359.1,531.9 365.1,532.2 371.1,533.5 377.1,535.0 384.1,536.3 387.0,537.3 392.0,538.4 399.1,540.1 406.1,542.4 412.6,545.2 419.6,548.6 426.6,552.0 432.1,555.4 440.1,559.0 448.9,562.4" fill="none" stroke="#f00" stroke-width="2.3" stroke-linejoin="round"/>
</svg></body></html>
